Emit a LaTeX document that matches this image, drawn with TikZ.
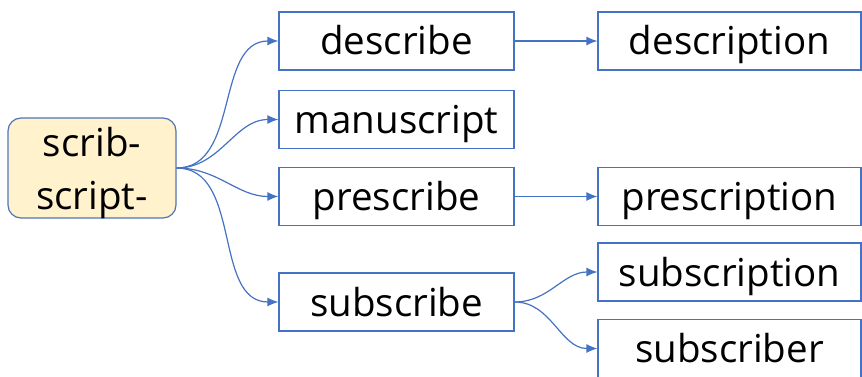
\documentclass[tikz,border=0pt]{standalone}
\usepackage{fontspec}
\setmainfont{Open Sans}
\usetikzlibrary{arrows.meta,positioning}
\definecolor{lineblue}{HTML}{4472C4}
\definecolor{rootfill}{HTML}{FFF2CC}
\tikzset{
  word/.style={draw=lineblue,line width=1.2pt,minimum width=235pt,minimum height=58pt,inner sep=0pt,
    text height=28pt,text depth=0pt,font=\fontsize{38.5}{53}\selectfont},
  derived/.style={word,minimum width=263pt},
  rootbox/.style={draw=lineblue!80!gray,fill=rootfill,line width=1.2pt,rounded corners=13pt,
    minimum width=168pt,minimum height=100pt,align=center,inner sep=0pt,text depth=0pt,
    font=\fontsize{38.5}{53}\selectfont},
  arr/.style={-{Latex[length=11pt,width=9pt]},lineblue,line width=1.2pt}
}

\begin{document}
\begin{tikzpicture}[x=1pt,y=-1pt]
\useasboundingbox (0,0) rectangle (862,377);
\node[rootbox] (root) at (92,168) {scrib-\\script-};
\node[word] (describe)   at (396.5,41)    {describe};
\node[word] (manuscript) at (396.5,119.5) {manuscript};
\node[word] (prescribe)  at (396.5,196.5) {prescribe};
\node[word] (subscribe)  at (396.5,302)   {subscribe};
\node[derived] (description)  at (729.5,41)    {description};
\node[derived] (prescription) at (729.5,196.5) {prescription};
\node[derived] (subscription) at (729.5,272)   {subscription};
\node[derived] (subscriber)   at (729.5,348.5) {subscriber};
% fan out from the root
\foreach \w in {describe,manuscript,prescribe,subscribe}
  \draw[arr] (root.east) to[out=0,in=180] (\w.west);
\draw[arr] (describe) -- (description);
\draw[arr] (prescribe) -- (prescription);
\foreach \w in {subscription,subscriber}
  \draw[arr] (subscribe.east) to[out=0,in=180] (\w.west);
\end{tikzpicture}
\end{document}
